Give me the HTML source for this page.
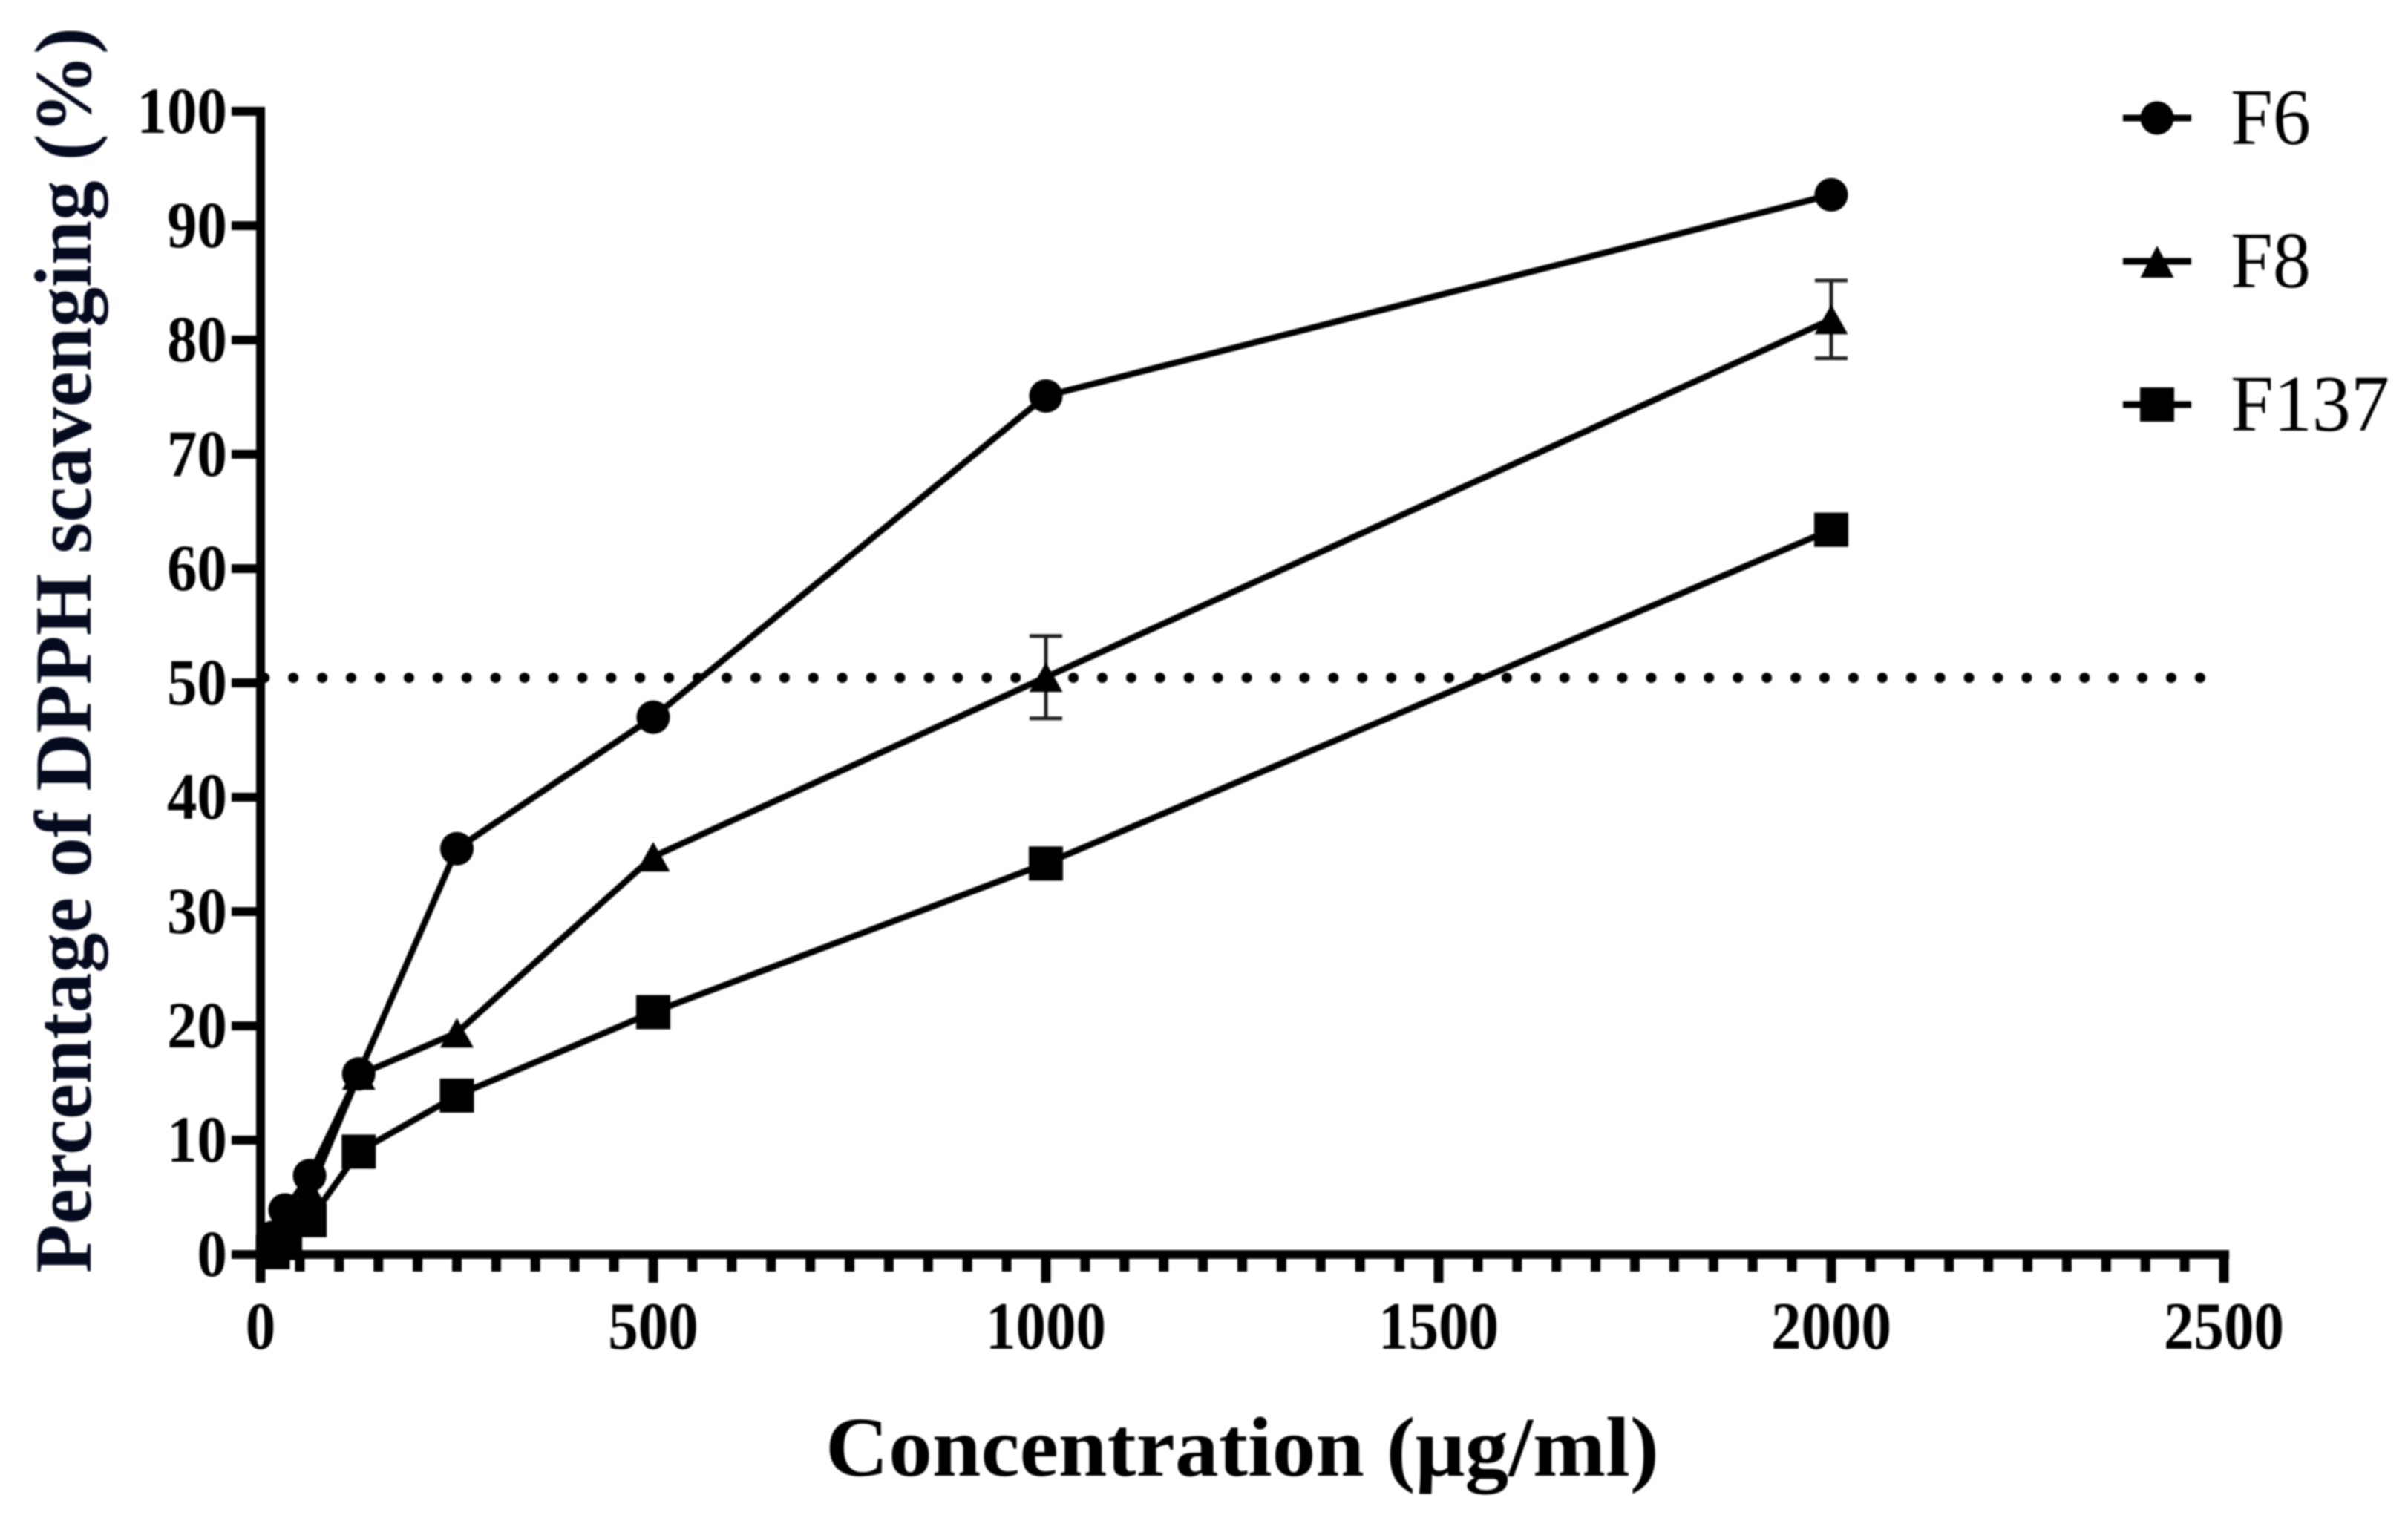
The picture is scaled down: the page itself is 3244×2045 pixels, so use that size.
<!DOCTYPE html>
<html lang="en">
<head>
<meta charset="utf-8">
<title>DPPH scavenging chart</title>
<style>
  html, body { margin: 0; padding: 0; background: #fff; }
  body { width: 3244px; height: 2045px; overflow: hidden; }
  svg { display: block; filter: blur(1px); }
  text { font-family: "Liberation Serif", serif; }
</style>
</head>
<body>
<svg id="chart" xmlns="http://www.w3.org/2000/svg" width="3244" height="2045" viewBox="0 0 3244 2045">
  <rect x="0" y="0" width="3244" height="2045" fill="#ffffff"/>
  <text transform="translate(122 1715) rotate(-90)" font-size="109" font-weight="700" fill="#050a1e" textLength="1678" lengthAdjust="spacingAndGlyphs">Percentage of DPPH scavenging (%)</text>
  <text x="1112" y="1988" font-size="114" font-weight="700" fill="#000" textLength="1123" lengthAdjust="spacingAndGlyphs">Concentration (μg/ml)</text>
  <g id="threshold"></g>
  <g id="series"></g>
  <g id="axes"></g>
  <g id="legend"></g>
</svg>
<script>
const concentrations = [15.625, 31.25, 62.5, 125, 250, 500, 1000, 2000];
const f6Values = [1.5, 3.9, 6.9, 15.8, 35.5, 47, 75.1, 92.7];
const f8Values = [1.0, 2.8, 5.5, 15.7, 19.4, 34.8, 50.5, 81.8];
const f137Values = [0.2, 1.0, 3.0, 9.0, 13.9, 21.2, 34.2, 63.4];
const f8Errors = [0, 0, 0, 0, 0, 0, 3.6, 3.4];
const xTickLabels = [0, 500, 1000, 1500, 2000, 2500];
const yTickLabels = [0, 10, 20, 30, 40, 50, 60, 70, 80, 90, 100];
const xMinorStep = [50];
const thresholdValue = [50.45];
const legendLabels = ['F6', 'F8', 'F137'];

const NS = 'http://www.w3.org/2000/svg';
function xScale(v) { return 351 + v * (2645 / 2500); }
function yScale(v) { return 1690 - v * 15.4; }

function make(parent, tag, attrs) {
  const el = document.createElementNS(NS, tag);
  for (const k in attrs) el.setAttribute(k, attrs[k]);
  parent.appendChild(el);
  return el;
}
function trianglePoints(cx, cy, up, down) {
  return (cx - 22.5) + ',' + (cy + down) + ' ' + cx + ',' + (cy - up) + ' ' + (cx + 22.5) + ',' + (cy + down);
}
function drawMarker(parent, kind, cx, cy) {
  if (kind === 'circle') return make(parent, 'circle', { cx: cx, cy: cy, r: 22.5, fill: '#000' });
  if (kind === 'triangle') return make(parent, 'polygon', { points: trianglePoints(cx, cy, 20, 20), fill: '#000' });
  return make(parent, 'rect', { x: cx - 23, y: cy - 23, width: 46, height: 46, fill: '#000' });
}

/* threshold dotted line */
const thresholdGroup = document.getElementById('threshold');
const thresholdLine = make(thresholdGroup, 'line', {
  x1: xScale(5), x2: 2975, y1: yScale(thresholdValue[0]), y2: yScale(thresholdValue[0]),
  stroke: '#000', 'stroke-width': 14, 'stroke-linecap': 'round', 'stroke-dasharray': '0 38.92'
});



/* series */
const seriesGroup = document.getElementById('series');
const seriesDefs = [
  { name: 'f6', values: f6Values, marker: 'circle' },
  { name: 'f8', values: f8Values, marker: 'triangle' },
  { name: 'f137', values: f137Values, marker: 'square' }
];

seriesDefs.forEach(function (s) {
  const pts = s.values.map(function (v, i) { return xScale(concentrations[i]) + ',' + yScale(v); }).join(' ');
  const line = make(seriesGroup, 'polyline', { points: pts, fill: 'none', stroke: '#000', 'stroke-width': 8.5, 'stroke-linejoin': 'round' });
  
  
});

f8Errors.forEach(function (e, i) {
  if (!e) return;
  const cx = xScale(concentrations[i]);
  const top = yScale(f8Values[i] + e);
  const bottom = yScale(f8Values[i] - e);
  const bar = make(seriesGroup, 'path', {
    d: 'M' + (cx - 22) + ' ' + top + 'H' + (cx + 22) + 'M' + cx + ' ' + top + 'V' + bottom + 'M' + (cx - 22) + ' ' + bottom + 'H' + (cx + 22),
    fill: 'none', stroke: '#222', 'stroke-width': 5
  });
  
  
});

seriesDefs.forEach(function (s) {
  s.values.forEach(function (v, i) {
    const m = drawMarker(seriesGroup, s.marker, xScale(concentrations[i]), yScale(v));
    
    
  });
});

/* axes */
const axesGroup = document.getElementById('axes');
const yAxisLine = make(axesGroup, 'rect', { x: 345, y: 144, width: 12, height: 1584, fill: '#000' });


const xAxisLine = make(axesGroup, 'rect', { x: 345, y: 1684, width: xScale(2500) + 7 - 345, height: 12, fill: '#000' });



yTickLabels.forEach(function (v) {
  const y = yScale(v);
  const tick = make(axesGroup, 'rect', { x: 312, y: y - 6, width: 36, height: 12, fill: '#000' });
  
  
  const label = make(axesGroup, 'text', {
    x: 306, y: y + 29, 'text-anchor': 'end', 'font-size': 89, 'font-weight': 700, fill: '#000',
    textLength: String(v).length * 40.5, lengthAdjust: 'spacingAndGlyphs'
  });
  label.textContent = v;
  
  
});

for (let v = 0; v <= xTickLabels[xTickLabels.length - 1]; v += xMinorStep[0]) {
  if (xTickLabels.indexOf(v) >= 0) continue;
  const minor = make(axesGroup, 'rect', { x: xScale(v) - 6.5, y: 1690, width: 13, height: 23, fill: '#000' });
  
  
}

xTickLabels.forEach(function (v) {
  const x = xScale(v);
  const tick = make(axesGroup, 'rect', { x: x - 6.5, y: 1690, width: 13, height: 38, fill: '#000' });
  
  
  const label = make(axesGroup, 'text', {
    x: x, y: 1817, 'text-anchor': 'middle', 'font-size': 91, 'font-weight': 700, fill: '#000',
    textLength: String(v).length * 40.5, lengthAdjust: 'spacingAndGlyphs'
  });
  label.textContent = v;
  
  
});

/* legend */
const legendGroup = document.getElementById('legend');
const legendKinds = ['circle', 'triangle', 'square'];
const legendRowY = [159, 352, 545];
const legendWidths = [108, 108, 214];
legendLabels.forEach(function (name, i) {
  const y = legendRowY[i];
  const row = make(legendGroup, 'g', {});
  
  
  const sample = make(row, 'rect', { x: 2860, y: y - 4.5, width: 92, height: 9, fill: '#000' });
  
  
  const marker = legendKinds[i] === 'triangle'
    ? make(row, 'polygon', { points: trianglePoints(2906, y, 21, 22), fill: '#000' })
    : drawMarker(row, legendKinds[i], 2906, y);
  
  
  const label = make(row, 'text', {
    x: 3005, y: y + 35, 'font-size': 108, fill: '#000',
    textLength: legendWidths[i], lengthAdjust: 'spacingAndGlyphs'
  });
  label.textContent = name;
  
  
});
</script>
</body>
</html>
